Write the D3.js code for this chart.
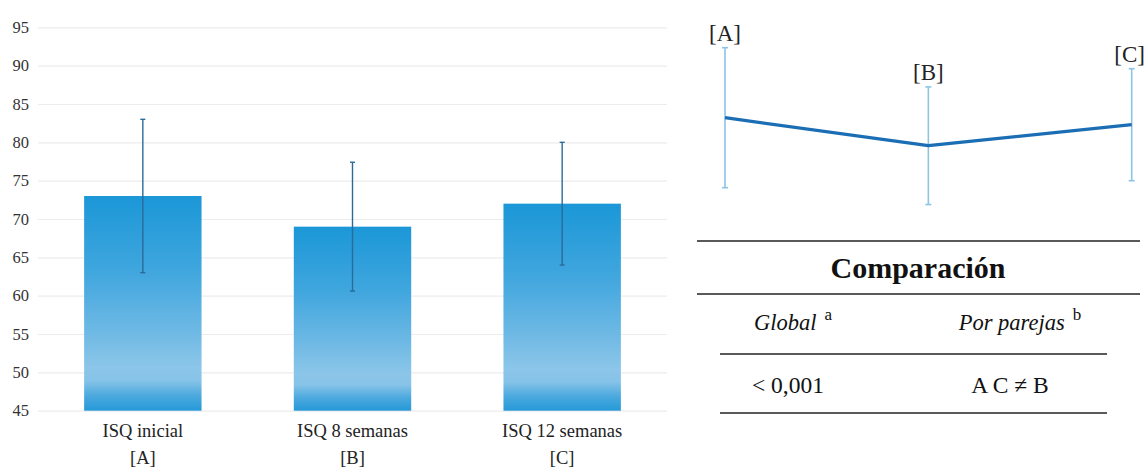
<!DOCTYPE html>
<html>
<head>
<meta charset="utf-8">
<script src="https://cdn.jsdelivr.net/npm/d3@7"></script>
<style>
  html, body { margin: 0; padding: 0; background: #fff; }
  svg { display: block; }
</style>
</head>
<body>
<svg id="chart" width="1145" height="467"></svg>
<script>
// ISQ measurements at three time points (mean ± SD)
const categories = ["ISQ inicial", "ISQ 8 semanas", "ISQ 12 semanas"];
const groupCodes = ["[A]", "[B]", "[C]"];
const means = [73, 69, 72];
const sds = [10, 8.4, 8];
const yTicks = [45, 50, 55, 60, 65, 70, 75, 80, 85, 90, 95];

// Comparison table
const tableTitle = "Comparación";
const tableHeaders = ["Global", "Por parejas"];
const headerNotes = ["a", "b"];
const tableValues = ["< 0,001", "A C \u2260 B"];

const serif = "'Liberation Serif', 'Times New Roman', serif";
const svg = d3.select("#chart");

// ---------- Bar chart with error bars ----------
const x = d3.scaleBand().domain(categories).range([38, 667])
  .paddingInner(0.44).paddingOuter(0.22);
const y = d3.scaleLinear().domain([45, 95]).range([410.7, 27.3]);

const defs = svg.append("defs");
const grad = defs.append("linearGradient").attr("id", "barFill")
  .attr("x1", 0).attr("y1", 0).attr("x2", 0).attr("y2", 1);
[[0, "#1b97d7"], [0.35, "#40a6de"], [0.62, "#6cb8e4"], [0.8, "#8cc6e9"],
 [0.86, "#86c3e8"], [0.93, "#4ca9de"], [1, "#2599d8"]]
  .forEach(([o, c]) => grad.append("stop").attr("offset", o).attr("stop-color", c));

const yAxis = d3.axisLeft(y).tickValues(yTicks).tickSizeInner(-(667 - 38))
  .tickSizeOuter(0).tickPadding(9);
const gy = svg.append("g").attr("transform", "translate(38,0)").call(yAxis);
gy.select(".domain").remove();
gy.selectAll(".tick line").attr("stroke", "#ececec").attr("stroke-width", 1.2);
gy.selectAll(".tick text").attr("font-family", serif).attr("font-size", 16.5)
  .attr("fill", "#333");

svg.append("g").selectAll("rect").data(categories).join("rect")
  .attr("x", d => x(d)).attr("width", x.bandwidth())
  .attr("y", (d, i) => y(means[i]))
  .attr("height", (d, i) => y(45) - y(means[i]))
  .attr("fill", "url(#barFill)");

const errG = svg.append("g").attr("stroke", "#2b6a99").attr("stroke-width", 1.4);
categories.forEach((c, i) => {
  const cx = x(c) + x.bandwidth() / 2;
  const top = y(means[i] + sds[i]), bot = y(means[i] - sds[i]);
  errG.append("line").attr("x1", cx).attr("x2", cx).attr("y1", top).attr("y2", bot);
  errG.append("line").attr("x1", cx - 2.5).attr("x2", cx + 2.5).attr("y1", top).attr("y2", top);
  errG.append("line").attr("x1", cx - 2.5).attr("x2", cx + 2.5).attr("y1", bot).attr("y2", bot);
});

const xl = svg.append("g").attr("font-family", serif).attr("font-size", 18.5)
  .attr("fill", "#222").attr("text-anchor", "middle");
categories.forEach((c, i) => {
  const cx = x(c) + x.bandwidth() / 2;
  xl.append("text").attr("x", cx).attr("y", 437).text(c);
  xl.append("text").attr("x", cx).attr("y", 464).text(groupCodes[i]);
});

// ---------- Line chart of the same means ----------
const x2 = d3.scalePoint().domain(groupCodes).range([725, 1131.7]);
const y2 = d3.scaleLinear().domain([60, 80]).range([208.7, 68.7]);

const eb = svg.append("g").attr("stroke", "#8cc4e8").attr("stroke-width", 1.6);
groupCodes.forEach((g, i) => {
  const cx = x2(g);
  const top = y2(means[i] + sds[i]), bot = y2(means[i] - sds[i]);
  eb.append("line").attr("x1", cx).attr("x2", cx).attr("y1", top).attr("y2", bot);
  eb.append("line").attr("x1", cx - 3).attr("x2", cx + 3).attr("y1", top).attr("y2", top);
  eb.append("line").attr("x1", cx - 3).attr("x2", cx + 3).attr("y1", bot).attr("y2", bot);
});

const line = d3.line().x((d, i) => x2(groupCodes[i])).y(d => y2(d));
svg.append("path").datum(means).attr("d", line).attr("fill", "none")
  .attr("stroke", "#1b6eb3").attr("stroke-width", 3.2).attr("stroke-linejoin", "round");

svg.append("g").attr("font-family", serif).attr("font-size", 23).attr("fill", "#222")
  .attr("text-anchor", "middle")
  .selectAll("text").data(groupCodes).join("text")
  .attr("x", (d, i) => x2(d) + (i === 2 ? -2 : 0))
  .attr("y", (d, i) => y2(means[i] + sds[i]) - 7)
  .text(d => d);

// ---------- Comparison table ----------
const tbl = svg.append("g").attr("font-family", serif).attr("fill", "#111");
const rule = (x1, x2v, yy) => tbl.append("line").attr("x1", x1).attr("x2", x2v)
  .attr("y1", yy).attr("y2", yy).attr("stroke", "#222").attr("stroke-width", 1.4);
rule(697, 1140, 241);
rule(697, 1140, 294);
rule(720, 1107, 354);
rule(720, 1107, 413);

tbl.append("text").attr("x", 918).attr("y", 278).attr("text-anchor", "middle")
  .attr("font-size", 30).attr("font-weight", "bold").text(tableTitle);

const colX = [793, 1020];
tableHeaders.forEach((h, i) => {
  const t = tbl.append("text").attr("x", colX[i]).attr("y", 330)
    .attr("text-anchor", "middle").attr("font-size", 22.5);
  t.append("tspan").attr("font-style", "italic").text(h);
  t.append("tspan").attr("font-size", 17).attr("dx", 8).attr("dy", -10).text(headerNotes[i]);
});

const valX = [788, 1010];
tableValues.forEach((v, i) => {
  tbl.append("text").attr("x", valX[i]).attr("y", 393)
    .attr("text-anchor", "middle").attr("font-size", 23.5).text(v);
});
</script>
</body>
</html>
